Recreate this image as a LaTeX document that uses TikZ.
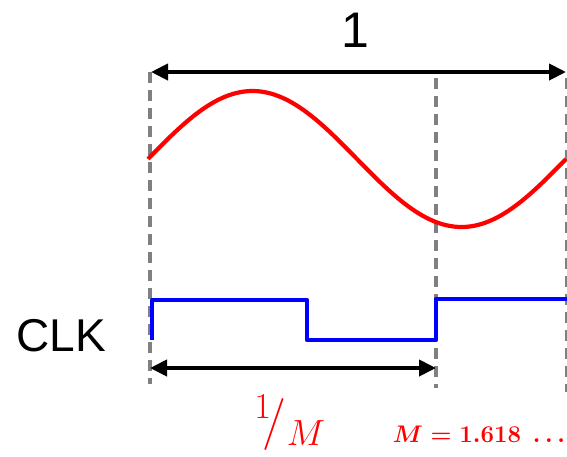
\RequirePackage{fix-cm}
\documentclass[tikz,border=0pt]{standalone}
\usepackage{fontspec}
\newfontfamily\sansf{Liberation Sans}
\usepackage{tikz}
\usetikzlibrary{arrows.meta,positioning,calc}
\definecolor{cRed}{HTML}{FF0000}
\definecolor{cBlue}{HTML}{0000FF}
\definecolor{cGray}{HTML}{808080}
\definecolor{cInk}{HTML}{000000}
\tikzset{
  guide/.style={draw=cGray,line width=4.5pt,dash pattern=on 11pt off 7pt},
  sig/.style={draw=#1,line width=4.2pt,line join=round},
  sig/.default=cRed,
  span/.style={{Triangle[length=17pt,width=16pt]}-{Triangle[length=17pt,width=16pt]},line width=4pt,color=cInk},
  lbl/.style={text=cInk,inner sep=0pt},
}
\begin{document}
\begin{tikzpicture}[x=1pt,y=-1pt]
  \useasboundingbox (0,0) rectangle (567,456);
  % time marks
  \foreach \n/\gx/\gt/\gb in {gA/150/72/384,gB/436/78/388,gC/566.8/78/392}{
    \coordinate (\n top) at (\gx,\gt);
    \coordinate (\n bot) at (\gx,\gb);
    \draw[guide] (\n top) -- (\n bot);}
  % sine, one full period
  \draw[sig] plot[domain=0:360,samples=120] ({148+\x/360*418},{159-68*sin(\x)});
  % clock
  \coordinate (c0) at (152,340);
  \coordinate (c1) at (307,300);
  \coordinate (c2) at (436,340);
  \coordinate (c3) at (567,299);
  \draw[sig=cBlue] (c0) |- (c1) |- (c2) |- (c3);
  % spans
  \coordinate (tL) at (151,72);
  \coordinate (tR) at (566,72);
  \draw[span] (tL) -- (tR);
  \coordinate (bL) at (150,368);
  \coordinate (bR) at (436,368);
  \draw[span] (bL) -- (bR);
  % labels
  \node[lbl,font=\sansf\fontsize{50}{56}\selectfont] (one) at (355,30) {1};
  \node[lbl,font=\sansf\fontsize{46}{52}\selectfont] (clk) at (61,336) {CLK};
  \node[lbl,text=cRed,font=\fontsize{52}{60}\selectfont] (frac) at (290,423) {$^{1}\!/_{M}$};
  \node[lbl,text=cRed,font=\fontsize{24}{28}\selectfont\boldmath] (mval) at (479,434) {$M=1.618\ \ldots$};
\end{tikzpicture}
\end{document}
